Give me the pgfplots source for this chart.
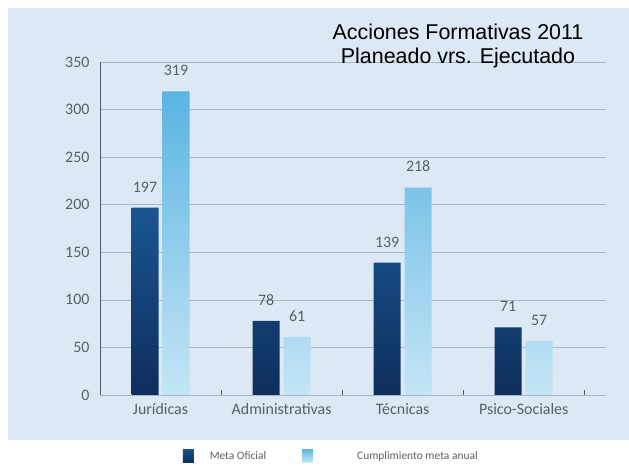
\documentclass[border=0pt]{standalone}
\usepackage{pgfplots}
\pgfplotsset{compat=1.18}
\usepackage{fontspec}
\setmainfont{Carlito}
\newfontfamily\titlefont{Liberation Sans}
\definecolor{bgpanel}{HTML}{DCE8F4}
\definecolor{darktop}{HTML}{1A5592}
\definecolor{darkbot}{HTML}{0E2E5C}
\definecolor{lighttop}{HTML}{5AB4E2}
\definecolor{lightbot}{HTML}{C4E5F5}
\definecolor{gridc}{HTML}{A8B6C6}
\definecolor{txt}{HTML}{5A5F66}
\definecolor{axc}{HTML}{505A66}
\begin{document}
\begin{tikzpicture}[x=1bp,y=1bp]
\useasboundingbox (-100,-73) rectangle (529,395);
\fill[white] (-100,-73) rectangle (529,395);
\fill[bgpanel] (-92,-45) rectangle (529,387);
\begin{axis}[
  at={(0,0)}, anchor=south west,
  scale only axis, width=506bp, height=333bp,
  xmin=-0.5, xmax=3.68, ymin=0, ymax=350,
  axis line style={draw=none},
  ybar=4bp, bar width=27bp,
  ytick={0,50,...,350},
  ymajorgrids, grid style={gridc, line width=0.6pt},
  major tick length=0pt,
  xtick={0,1,2,3},
  xticklabels={Jurídicas, Administrativas, Técnicas, Psico-Sociales},
  extra x ticks={0.5,1.5,2.5,3.5},
  extra x tick labels={},
  extra x tick style={major tick length=5bp, tick align=inside, grid=none, tick style={axc, line width=0.8pt}},
  xtick pos=bottom, ytick pos=left,
  /pgf/number format/assume math mode=true,
  tick label style={font=\fontsize{16}{19}\selectfont, text=txt},
  yticklabel style={xshift=-7bp},
  xticklabel style={yshift=-5bp},
  nodes near coords,
  every node near coord/.append style={font=\fontsize{16}{19}\selectfont, text=txt, yshift=12bp},
  legend style={at={(0.457,-0.183)}, anchor=center, draw=none, fill=none,
    font=\fontsize{11.5}{13}\selectfont, text=txt, legend columns=2,
    /tikz/every odd column/.append style={column sep=14bp},
    /tikz/every even column/.append style={column sep=34bp}},
  legend cell align=left,
  legend image code/.code={\fill[#1] (0bp,-6bp) rectangle (11bp,7bp);},
]
\addplot[draw=none, top color=darktop, bottom color=darkbot] coordinates {(0,197) (1,78) (2,139) (3,71)};
\addplot[draw=none, top color=lighttop, bottom color=lightbot] coordinates {(0,319) (1,61) (2,218) (3,57)};
\legend{Meta Oficial, \hspace{28bp}Cumplimiento meta anual}
\draw[axc, line width=0.8pt] (axis cs:-0.5,0) -- (axis cs:-0.5,350);
\draw[axc, line width=0.8pt] (axis cs:-0.5,0) -- (axis cs:3.5,0);
\end{axis}
\node[font=\titlefont\fontsize{21.5}{25}\selectfont, align=center, text=black] at (358,349) {Acciones Formativas 2011\\Planeado vrs. Ejecutado};
\end{tikzpicture}
\end{document}
